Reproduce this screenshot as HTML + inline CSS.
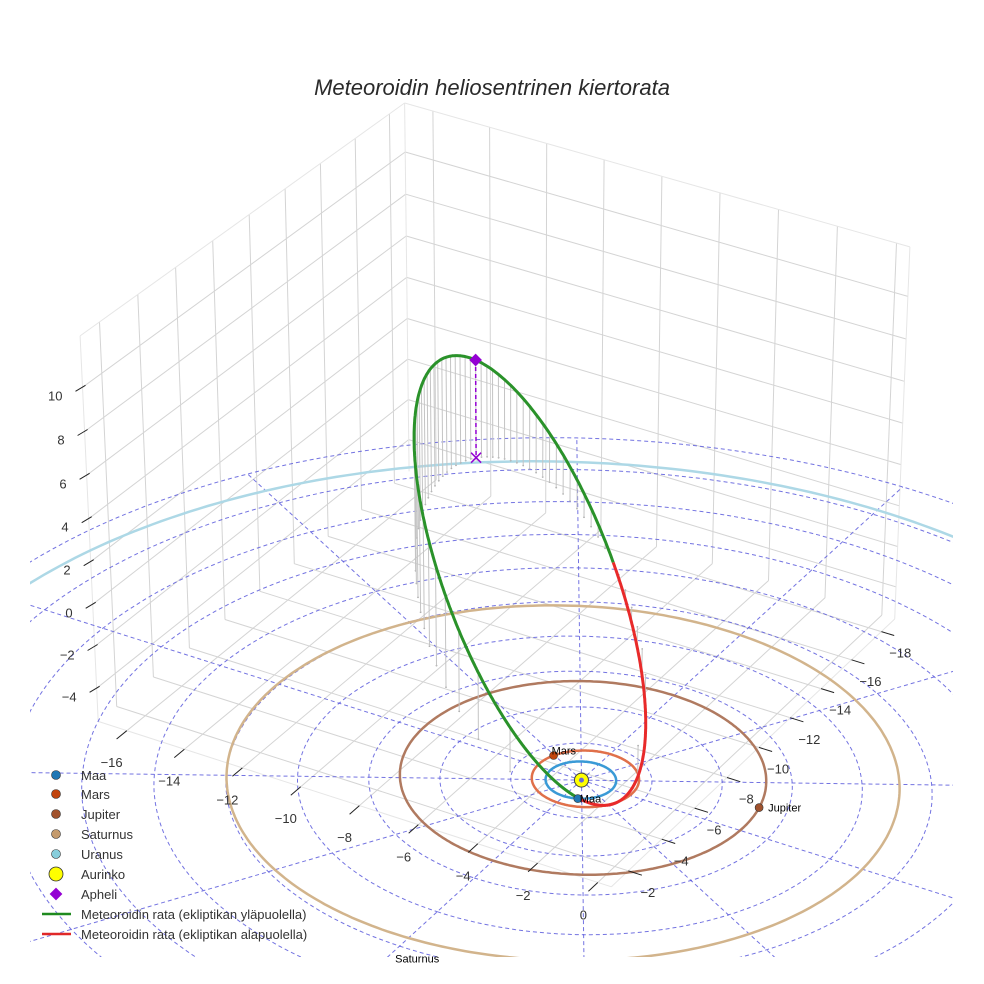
<!DOCTYPE html>
<html><head><meta charset="utf-8">
<style>
html,body{margin:0;padding:0;background:#fff;overflow:hidden;width:984px;height:984px;}
svg{display:block;font-family:"Liberation Sans",sans-serif;}
</style></head>
<body>
<svg id="chart" width="984" height="984" viewBox="0 0 984 984">
<defs><clipPath id="sceneClip"><rect x="30" y="0" width="923" height="957"/></clipPath></defs>
<rect x="0" y="0" width="984" height="984" fill="#fff"/>
<text x="492" y="95" text-anchor="middle" font-size="22" font-style="italic" fill="#2a2a2a">Meteoroidin heliosentrinen kiertorata</text>
<g id="walls"></g>
<g id="ecl" clip-path="url(#sceneClip)"></g>
<g id="orbits" clip-path="url(#sceneClip)"></g>
<g id="axes"></g>
<g id="stems"></g>
<g id="met"></g>
<g id="marks"></g>
<g id="legend" font-size="13" fill="#333">
  <g><circle cx="56" cy="775" r="4.5" fill="#1f77b4" stroke="#333" stroke-width="0.6"/><text x="81" y="780">Maa</text></g>
  <g><circle cx="56" cy="794" r="4.5" fill="#c1440e" stroke="#333" stroke-width="0.6"/><text x="81" y="799">Mars</text></g>
  <g><circle cx="56" cy="814" r="4.5" fill="#a0522d" stroke="#333" stroke-width="0.6"/><text x="81" y="819">Jupiter</text></g>
  <g><circle cx="56" cy="834" r="4.5" fill="#c49a6c" stroke="#333" stroke-width="0.6"/><text x="81" y="839">Saturnus</text></g>
  <g><circle cx="56" cy="854" r="4.5" fill="#87cedc" stroke="#333" stroke-width="0.6"/><text x="81" y="859">Uranus</text></g>
  <g><circle cx="56" cy="874" r="7" fill="#ffff00" stroke="#333" stroke-width="0.8"/><text x="81" y="879">Aurinko</text></g>
  <g><rect x="51.5" y="889.5" width="9" height="9" fill="#9400d3" transform="rotate(45 56 894)"/><text x="81" y="899">Apheli</text></g>
  <g><line x1="42" y1="914" x2="71" y2="914" stroke="#1f8a1f" stroke-width="2.5"/><text x="81" y="919">Meteoroidin rata (ekliptikan yläpuolella)</text></g>
  <g><line x1="42" y1="934" x2="71" y2="934" stroke="#e02828" stroke-width="2.5"/><text x="81" y="939">Meteoroidin rata (ekliptikan alapuolella)</text></g>
</g>
</svg>
<script>
// ---------- data ----------
const planetNames = ['Maa', 'Mars', 'Jupiter', 'Saturnus', 'Uranus'];
const planetA = [1.0, 1.524, 5.203, 9.537, 19.19];
const planetE = [0.017, 0.093, 0.048, 0.054, 0.047];
const planetPeri = [102.9, 336.0, 14.7, 92.4, 170.9];
const planetLon = [23.6, 241, 105, 1.6, 60];
const planetColors = ['#3a9ad6', '#e0704a', '#b07a60', '#d2b48c', '#add8e6'];
const planetDotColors = ['#1f77b4', '#c1440e', '#a0522d', '#c49a6c', '#87cedc'];
const meteorA = [10.2];
const meteorE = [0.907];
const meteorInc = [45];
const meteorNode = [205];
const meteorPeri = [200];
const xTicks = [-18, -16, -14, -12, -10, -8, -6, -4, -2];
const yTicks = [-16, -14, -12, -10, -8, -6, -4, -2, 0];
const zTicks = [-4, -2, 0, 2, 4, 6, 8, 10];
const gridRadii = [2, 4, 6, 8, 10, 12, 14, 16, 18, 20];
const gridAngles = [0, 30, 60, 90, 120, 150, 180, 210, 240, 270, 300, 330];
const xRange = [-18.9, -1.0];
const yRange = [-17, 0.45];
const zRange = [-5.6, 12.3];

// ---------- camera calibration (projective fit) ----------
const calib = [
  [xRange[1], yRange[0], zRange[0], 100, 725],
  [xRange[1], yRange[0], zRange[1], 81, 333],
  [xRange[0], yRange[0], zRange[1], 400, 104],
  [xRange[0], yRange[1], zRange[1], 914, 252],
  [xRange[0], yRange[1], zRange[0], 895, 613],
  [xRange[1], yRange[1], zRange[0], 612, 890],
  [xRange[1], yRange[0], 10, 84, 384],
  [xRange[1], yRange[0], 0, 93, 604],
  [xRange[1], yRange[0], -4, 97, 690],
  [0, 0, 0, 576, 778]
];
function solveCam(){
  const A = [], b = [];
  calib.forEach(c => {
    const X = c[0]/10, Y = c[1]/10, Z = c[2]/10, u = (c[3]-492)/492, v = (c[4]-492)/492;
    A.push([X, Y, Z, 1, 0, 0, 0, 0, -u*X, -u*Y, -u*Z]); b.push(u);
    A.push([0, 0, 0, 0, X, Y, Z, 1, -v*X, -v*Y, -v*Z]); b.push(v);
  });
  const n = 11, M = [];
  for (let i = 0; i < n; i++){
    M.push(new Array(n+1).fill(0));
    for (let j = 0; j < n; j++){ let s = 0; for (let k = 0; k < A.length; k++) s += A[k][i]*A[k][j]; M[i][j] = s; }
    let s = 0; for (let k = 0; k < A.length; k++) s += A[k][i]*b[k]; M[i][n] = s;
  }
  for (let i = 0; i < n; i++){
    let p = i; for (let r = i+1; r < n; r++) if (Math.abs(M[r][i]) > Math.abs(M[p][i])) p = r;
    [M[i], M[p]] = [M[p], M[i]];
    for (let r = 0; r < n; r++){ if (r === i) continue; const f = M[r][i]/M[i][i]; for (let c = i; c <= n; c++) M[r][c] -= f*M[i][c]; }
  }
  return M.map((row, i) => row[n]/row[i]);
}
const P = solveCam();
function proj(x, y, z){
  const X = x/10, Y = y/10, Z = z/10;
  const w = P[8]*X + P[9]*Y + P[10]*Z + 1;
  const u = (P[0]*X + P[1]*Y + P[2]*Z + P[3])/w;
  const v = (P[4]*X + P[5]*Y + P[6]*Z + P[7])/w;
  return [u*492 + 492, v*492 + 492];
}
const NS = 'http://www.w3.org/2000/svg';
function mk(tag, attrs, parent){
  const el = document.createElementNS(NS, tag);
  for (const k in attrs) el.setAttribute(k, attrs[k]);
  parent.appendChild(el); return el;
}
function pathOf(pts){ return pts.map((p, i) => (i ? 'L' : 'M') + p[0].toFixed(1) + ' ' + p[1].toFixed(1)).join(' '); }
function seg3(a, b){ return pathOf([proj(a[0], a[1], a[2]), proj(b[0], b[1], b[2])]); }
const rad = Math.PI/180;

// ---------- box walls ----------
const walls = document.getElementById('walls');
let d = '';
xTicks.forEach(x => { d += seg3([x, yRange[0], zRange[0]], [x, yRange[0], zRange[1]]) + ' ' + seg3([x, yRange[0], zRange[0]], [x, yRange[1], zRange[0]]) + ' '; });
yTicks.forEach(y => { d += seg3([xRange[0], y, zRange[0]], [xRange[0], y, zRange[1]]) + ' ' + seg3([xRange[0], y, zRange[0]], [xRange[1], y, zRange[0]]) + ' '; });
zTicks.forEach(z => { d += seg3([xRange[1], yRange[0], z], [xRange[0], yRange[0], z]) + ' ' + seg3([xRange[0], yRange[0], z], [xRange[0], yRange[1], z]) + ' '; });
const gridPath = mk('path', {d: d, stroke: '#d4d4d4', 'stroke-width': 1, fill: 'none'}, walls);


let e = '';
e += seg3([xRange[1], yRange[0], zRange[0]], [xRange[1], yRange[0], zRange[1]]) + ' ';
e += seg3([xRange[1], yRange[0], zRange[1]], [xRange[0], yRange[0], zRange[1]]) + ' ';
e += seg3([xRange[0], yRange[0], zRange[1]], [xRange[0], yRange[1], zRange[1]]) + ' ';
e += seg3([xRange[0], yRange[1], zRange[1]], [xRange[0], yRange[1], zRange[0]]) + ' ';
e += seg3([xRange[0], yRange[1], zRange[0]], [xRange[1], yRange[1], zRange[0]]) + ' ';
e += seg3([xRange[1], yRange[1], zRange[0]], [xRange[1], yRange[0], zRange[0]]) + ' ';
e += seg3([xRange[0], yRange[0], zRange[0]], [xRange[0], yRange[0], zRange[1]]) + ' ';
const edgePath = mk('path', {d: e, stroke: '#e6e6e6', 'stroke-width': 1, fill: 'none'}, walls);



// ---------- ecliptic polar grid ----------
const ecl = document.getElementById('ecl');
gridRadii.forEach(r => {
  const pts = [];
  for (let k = 0; k <= 240; k++){ const t = k/240*360*rad; pts.push(proj(r*Math.cos(t), r*Math.sin(t), 0)); }
  const c = mk('path', {d: pathOf(pts), stroke: '#5b5bdc', 'stroke-width': 1, fill: 'none', 'stroke-dasharray': '4,3', opacity: 0.85}, ecl);
  
  
});
gridAngles.forEach(a => {
  const R = gridRadii[gridRadii.length-1];
  const l = mk('path', {d: seg3([0, 0, 0], [R*Math.cos(a*rad), R*Math.sin(a*rad), 0]), stroke: '#5b5bdc', 'stroke-width': 1, fill: 'none', 'stroke-dasharray': '4,3', opacity: 0.85}, ecl);
  
  
});

// ---------- planet orbits ----------
const orbG = document.getElementById('orbits');
function planetR(i, lon){ const a = planetA[i], ec = planetE[i]; return a*(1-ec*ec)/(1 + ec*Math.cos((lon - planetPeri[i])*rad)); }
planetNames.forEach((nm, i) => {
  const pts = [];
  for (let k = 0; k <= 360; k++){ const r = planetR(i, k); pts.push(proj(r*Math.cos(k*rad), r*Math.sin(k*rad), 0)); }
  const o = mk('path', {d: pathOf(pts), stroke: planetColors[i], 'stroke-width': 2.5, fill: 'none'}, orbG);
  
  
});

// ---------- axes ticks & labels ----------
const axes = document.getElementById('axes');
zTicks.forEach(z => {
  const p = proj(xRange[1], yRange[0], z);
  const t = mk('path', {d: pathOf([[p[0]-7, p[1]+4], [p[0]+3, p[1]-2]]), stroke: '#222', 'stroke-width': 1}, axes);
  
  
  const lb = mk('text', {x: p[0]-20, y: p[1]+13, 'text-anchor': 'end', 'font-size': 13, fill: '#333'}, axes);
  lb.textContent = String(z).replace('-', '\u2212');
  
  
});
yTicks.forEach(y => {
  const a = proj(xRange[1], y, zRange[0]), b = proj(xRange[1] + 0.55, y, zRange[0]);
  const t = mk('path', {d: pathOf([a, b]), stroke: '#222', 'stroke-width': 1}, axes);
  
  
  const lb = mk('text', {x: b[0]-5, y: b[1]+28, 'text-anchor': 'middle', 'font-size': 13, fill: '#333'}, axes);
  lb.textContent = String(y).replace('-', '\u2212');
  
  
});
xTicks.forEach(x => {
  const a = proj(x, yRange[1], zRange[0]), b = proj(x, yRange[1] + 0.45, zRange[0]);
  const t = mk('path', {d: pathOf([a, b]), stroke: '#222', 'stroke-width': 1}, axes);
  
  
  const lb = mk('text', {x: b[0]+6, y: b[1]+22, 'text-anchor': 'middle', 'font-size': 13, fill: '#333'}, axes);
  lb.textContent = String(x).replace('-', '\u2212');
  
  
});

// ---------- meteoroid orbit ----------
const A0 = meteorA[0], E0 = meteorE[0], I0 = meteorInc[0]*rad, N0 = meteorNode[0]*rad, W0 = meteorPeri[0]*rad;
function met(nu){
  const r = A0*(1-E0*E0)/(1 + E0*Math.cos(nu));
  const u = W0 + nu;
  return [r*(Math.cos(N0)*Math.cos(u) - Math.sin(N0)*Math.sin(u)*Math.cos(I0)),
          r*(Math.sin(N0)*Math.cos(u) + Math.cos(N0)*Math.sin(u)*Math.cos(I0)),
          r*Math.sin(u)*Math.sin(I0)];
}
const stemG = document.getElementById('stems');
let sd = '';
for (let k = 0; k < 60; k++){
  const M = (k/60)*2*Math.PI;
  let E = M; for (let it = 0; it < 60; it++) E = E - (E - E0*Math.sin(E) - M)/(1 - E0*Math.cos(E));
  const nu = 2*Math.atan2(Math.sqrt(1+E0)*Math.sin(E/2), Math.sqrt(1-E0)*Math.cos(E/2));
  const q = met(nu);
  sd += seg3(q, [q[0], q[1], 0]) + ' ';
  const g = proj(q[0], q[1], 0);
  const dot = mk('circle', {cx: g[0].toFixed(1), cy: g[1].toFixed(1), r: 0.9, fill: '#aaa'}, stemG);
  
  
}
const stemPath = mk('path', {d: sd, stroke: '#c4c4c4', 'stroke-width': 1, fill: 'none'}, stemG);



const metG = document.getElementById('met');
let cur = [], curSign = null;
function flush(){
  if (cur.length > 1){
    const s = mk('path', {d: pathOf(cur), stroke: curSign ? '#2a922a' : '#e82a2a', 'stroke-width': 3, fill: 'none', 'stroke-linejoin': 'round'}, metG);
    
    
  }
}
for (let k = 0; k <= 1440; k++){
  const nu = -Math.PI + k/1440*2*Math.PI;
  const q = met(nu), sg = q[2] >= 0, p = proj(q[0], q[1], q[2]);
  if (curSign === null) curSign = sg;
  if (sg !== curSign){ cur.push(p); flush(); cur = [p]; curSign = sg; } else cur.push(p);
}
flush();

// ---------- markers ----------
const mG = document.getElementById('marks');
const aph = met(Math.PI);
const ap = proj(aph[0], aph[1], aph[2]), ag = proj(aph[0], aph[1], 0);
const aLine = mk('path', {d: pathOf([ap, ag]), stroke: '#9400d3', 'stroke-width': 1.5, 'stroke-dasharray': '4,3'}, mG);


const ax = mk('path', {d: `M${ag[0]-5} ${ag[1]-5} L${ag[0]+5} ${ag[1]+5} M${ag[0]-5} ${ag[1]+5} L${ag[0]+5} ${ag[1]-5}`, stroke: '#9400d3', 'stroke-width': 1.5}, mG);


const ad = mk('rect', {x: ap[0]-4.5, y: ap[1]-4.5, width: 9, height: 9, fill: '#9400d3', transform: `rotate(45 ${ap[0]} ${ap[1]})`}, mG);



const sun = proj(0, 0, 0);
const sc = mk('circle', {cx: sun[0], cy: sun[1], r: 7, fill: '#ffff00', stroke: '#444', 'stroke-width': 1}, mG);


const sc2 = mk('circle', {cx: sun[0], cy: sun[1], r: 2.5, fill: '#6a6ad8'}, mG);



const labelDx = [2, -2, 9, 0, 6];
const labelDy = [4, -1, 4, 22, 4];
const labelAnchor = ['start', 'start', 'start', 'middle', 'start'];
const showDot = [true, true, true, false, true];
planetNames.forEach((nm, i) => {
  const lon = planetLon[i], r = planetR(i, lon);
  const p = proj(r*Math.cos(lon*rad), r*Math.sin(lon*rad), 0);
  const inside = p[0] > 30 && p[0] < 953 && p[1] > 0 && p[1] < 950;
  if (inside && showDot[i]){
    const c = mk('circle', {cx: p[0].toFixed(1), cy: p[1].toFixed(1), r: 4, fill: planetDotColors[i], stroke: '#333', 'stroke-width': 0.6}, mG);
    
    
  }
  if (p[0] > 0 && p[0] < 984 && p[1] > 0 && p[1] < 975){
    const t = mk('text', {x: (p[0] + labelDx[i]).toFixed(1), y: (p[1] + labelDy[i]).toFixed(1), 'font-size': 11, fill: '#000', 'text-anchor': labelAnchor[i]}, mG);
    t.textContent = nm;
    
    
  }
});
</script>
</body></html>
